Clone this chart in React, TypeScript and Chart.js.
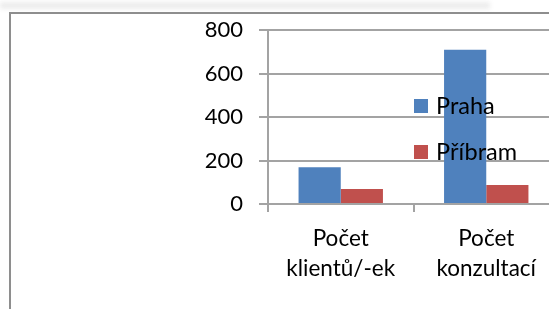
import React, { useEffect, useRef } from "react";
import { Chart, registerables } from "chart.js";

Chart.register(...registerables);

const categories: string[][] = [
  ["Počet", "klientů/-ek"],
  ["Počet", "konzultací"],
];
const seriesNames = ["Praha", "Příbram"];
const prahaValues = [169, 709];
const pribramValues = [69, 87];
const yMin = 0;
const yMax = 800;
const yStep = 200;

const FONT = "Lato, 'Open Sans', sans-serif";
const GRID = "#a3a3a3";

const legendPlugin = {
  id: "overlayLegend",
  afterDraw(chart: any) {
    const ctx = chart.ctx;
    ctx.save();
    chart.data.datasets.forEach((ds: any, i: number) => {
      const cy = 106 + i * 46;
      ctx.fillStyle = ds.backgroundColor;
      ctx.fillRect(414, cy - 7, 14, 14);
      ctx.fillStyle = "#000";
      ctx.font = `23.5px ${FONT}`;
      ctx.textBaseline = "middle";
      ctx.textAlign = "left";
      ctx.fillText(ds.label, 436, cy);
    });
    ctx.restore();
  },
};

export default function App() {
  const ref = useRef<HTMLCanvasElement | null>(null);

  useEffect(() => {
    if (!ref.current) return;
    const chart = new Chart(ref.current, {
      type: "bar",
      data: {
        labels: categories,
        datasets: [
          {
            label: seriesNames[0],
            data: prahaValues,
            backgroundColor: "#4F81BD",
            borderWidth: 0,
          },
          {
            label: seriesNames[1],
            data: pribramValues,
            backgroundColor: "#C0504D",
            borderWidth: 0,
          },
        ],
      },
      options: {
        responsive: false,
        animation: false,
        devicePixelRatio: 1,
        layout: { padding: { top: 30, right: 1, bottom: 0, left: 0 } },
        plugins: {
          legend: { display: false },
          tooltip: { enabled: false },
        },
        datasets: {
          bar: { categoryPercentage: 0.58, barPercentage: 1 },
        },
        scales: {
          x: {
            grid: {
              offset: true,
              drawOnChartArea: false,
              drawTicks: true,
              tickLength: 8,
              color: GRID,
              lineWidth: 2,
            },
            border: { color: GRID, width: 2 },
            ticks: {
              color: "#000",
              padding: 12,
              maxRotation: 0,
              font: { family: FONT, size: 22.5, lineHeight: 30 / 22.5 },
            },
            afterFit: (scale: any) => {
              scale.height = 105;
            },
          },
          y: {
            min: yMin,
            max: yMax,
            ticks: {
              stepSize: yStep,
              color: "#000",
              padding: 16,
              font: { family: FONT, size: 22 },
            },
            grid: {
              color: GRID,
              lineWidth: 2,
              tickLength: 9,
            },
            border: { color: GRID, width: 2 },
            afterFit: (scale: any) => {
              scale.width = 268;
            },
          },
        },
      },
      plugins: [legendPlugin],
    });
    return () => chart.destroy();
  }, []);

  return (
    <div
      style={{
        position: "fixed",
        left: 0,
        top: 0,
        width: 549,
        height: 309,
        overflow: "hidden",
        background: "#fff",
      }}
    >
      <div
        style={{
          position: "absolute",
          left: 0,
          top: 2,
          width: 490,
          height: 7,
          background: "#ededed",
          filter: "blur(2px)",
        }}
      />
      <div
        style={{
          position: "absolute",
          left: 9,
          top: 12,
          width: 700,
          height: 400,
          borderTop: "2px solid #8e8e8e",
          borderLeft: "2px solid #8e8e8e",
        }}
      />
      <canvas
        ref={ref}
        width={560}
        height={309}
        style={{ position: "absolute", left: 0, top: 0, width: 560, height: 309 }}
      />
    </div>
  );
}
